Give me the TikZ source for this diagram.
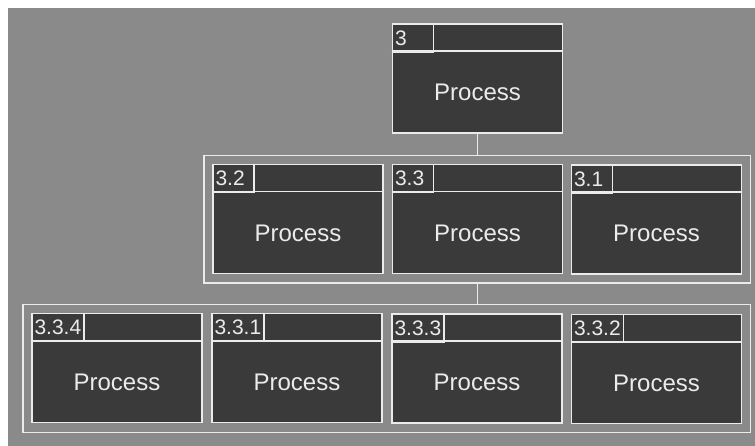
\documentclass[tikz,border=0pt]{standalone}
\usepackage{fontspec}
\setmainfont{Liberation Sans}
\usetikzlibrary{positioning, fit}
\definecolor{bggray}{HTML}{8A8A8A}
\definecolor{boxgray}{HTML}{3A3A3A}
\definecolor{linecol}{HTML}{EBEBEB}

\begin{document}
\begin{tikzpicture}[
  x=1pt, y=-1pt,
  line width=1.7pt,
  proc/.style={draw=linecol, fill=boxgray, minimum width=170pt,
    minimum height=109pt, inner sep=0pt},
  numcell/.style={draw=linecol, anchor=north west, minimum height=28pt,
    text width=#1, inner xsep=2.5pt, inner ysep=0pt, align=left,
    text=linecol, font=\fontsize{21}{22}\selectfont},
  proctext/.style={text=linecol, font=\fontsize{24}{27}\selectfont},
  group/.style={draw=linecol, inner sep=8pt},
  link/.style={draw=linecol},
  ]
  \def\Hh{28}

  % Background sheet
  \useasboundingbox (0,0) rectangle (755,446);
  \fill[white] (0,0) rectangle (755,446);
  \fill[bggray] (8,8) rectangle (755,446);

  % Process boxes: name/x/y/number/cell width
  \foreach \nm/\cx/\cy/\lbl/\w in {
      p3/477.5/78.5/3/36,
      p32/298/219/3.2/36, p33/477.5/219/3.3/36, p31/656.5/219.5/3.1/36,
      p334/117/368/3.3.4/47, p331/297/368/3.3.1/47,
      p333/477/368.5/3.3.3/47, p332/656.5/369/3.3.2/47} {
    \node[proc] (\nm) at (\cx,\cy) {};
    \draw[linecol] ([yshift=-\Hh pt]\nm.north west) -- ([yshift=-\Hh pt]\nm.north east);
    \node[numcell=\w pt] (\nm-num) at (\nm.north west) {\lbl};
    \node[proctext] (\nm-txt) at ([yshift=-14pt]\nm.center) {Process};
  }

  % Group frames round each level
  \node[group, fit=(p32)(p31)] (row2) {};
  \node[group, fit=(p334)(p332)] (row3) {};

  % Links between levels
  \draw[link] (p3.south) -- (p3.south |- row2.north);
  \draw[link] (p33.south |- row2.south) -- (p33.south |- row3.north);
\end{tikzpicture}
\end{document}
